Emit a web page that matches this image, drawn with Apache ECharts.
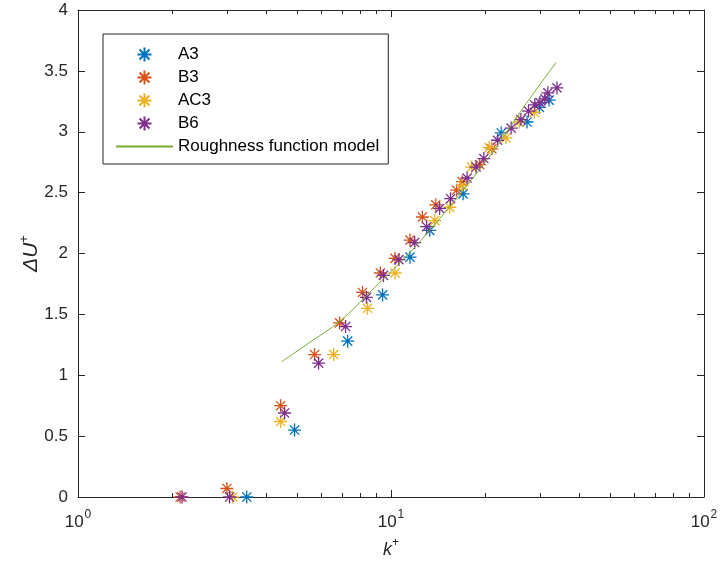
<!DOCTYPE html>
<html><head><meta charset="utf-8">
<script src="https://cdn.jsdelivr.net/npm/echarts@6/dist/echarts.min.js"></script>
<style>html,body{margin:0;padding:0;background:#fff}#c{width:721px;height:569px}</style>
</head><body><div id="c"></div>
<script>
// ---- data (k+, ΔU+) ----
const a3 = [[3.46,0],[4.92,0.55],[7.27,1.28],[9.4,1.66],[11.5,1.97],[13.3,2.19],[17.0,2.49],[22.5,2.99],[27.2,3.08],[29.8,3.2],[32.0,3.26]];
const b3 = [[2.12,0],[2.99,0.07],[4.44,0.75],[5.70,1.17],[6.85,1.43],[8.11,1.68],[9.25,1.84],[10.3,1.96],[11.5,2.11],[12.6,2.30],[13.9,2.40],[16.2,2.52],[16.9,2.59],[19.2,2.73],[21.0,2.86]];
const ac3 = [[3.12,0],[4.44,0.62],[6.56,1.17],[8.41,1.55],[10.3,1.84],[13.8,2.27],[15.4,2.38],[16.9,2.56],[18.1,2.71],[20.6,2.87],[23.3,2.95],[25.7,3.08],[28.7,3.16]];
const b6 = [[2.15,0],[3.05,0],[4.57,0.69],[5.87,1.10],[7.16,1.40],[8.35,1.64],[9.46,1.82],[10.6,1.95],[11.9,2.09],[13.0,2.22],[14.3,2.37],[15.5,2.45],[17.5,2.62],[18.7,2.71],[19.8,2.78],[21.9,2.93],[24.2,3.03],[26.0,3.10],[27.5,3.17],[28.8,3.22],[29.9,3.24],[31.0,3.27],[31.7,3.32],[33.9,3.36]];
const model = [[4.47,1.11],[5.5,1.27],[6.85,1.44],[8.86,1.72],[11.7,2.03],[15.7,2.41],[21.1,2.83],[27.0,3.23],[33.7,3.57]];
const seriesNames = ['A3','B3','AC3','B6','Roughness function model'];
const xMajorTicks = [1,10,100];
const xMinorTicks = [2,3,4,5,6,7,8,9,20,30,40,50,60,70,80,90];
const yTicks = [0,0.5,1,1.5,2,2.5,3,3.5,4];

const FONT = 'Liberation Sans, Arial, Helvetica, sans-serif';
const AX = '#262626';
const star = 'path://M0,-1L0,1M-1,0L1,0M-0.7071,-0.7071L0.7071,0.7071M-0.7071,0.7071L0.7071,-0.7071';
const colors = ['#0072BD','#D95319','#EDB120','#7E2F8E','#77AC30'];
const rect = {left:78, right:17, top:10, bottom:72};
const logMin = Math.log10(xMajorTicks[0]), logMax = Math.log10(xMajorTicks[xMajorTicks.length-1]);

function scatter(name, data, color){
  return {name, type:'scatter', data, symbol: star, symbolSize: 13, symbolKeepAspect: true,
    itemStyle:{color: color, borderColor: color, borderWidth: 1.3, opacity: 1},
    xAxisIndex:0, yAxisIndex:0, clip:false, emphasis:{disabled:true}, animation:false};
}
function logX(opts){
  return Object.assign({type:'log', logBase:10, min:xMajorTicks[0], max:xMajorTicks[xMajorTicks.length-1],
    axisLine:{show:true, onZero:false, lineStyle:{color:AX, width:1}},
    axisTick:{show:true, inside:true, length:7, lineStyle:{color:AX, width:1}},
    splitLine:{show:false}, axisLabel:{show:false}, axisPointer:{show:false}}, opts);
}
function tickX(opts, vals, len){
  return Object.assign({type:'value', min:logMin, max:logMax,
    axisLine:{show:true, onZero:false, lineStyle:{color:AX, width:1, opacity:0}}, splitLine:{show:false}, axisLabel:{show:false}, axisPointer:{show:false},
    axisTick:{show:true, inside:true, length:len, customValues: vals.map(v => Math.log10(v)), lineStyle:{color:AX, width:1, opacity:1}}}, opts);
}

const chart = echarts.init(document.getElementById('c'));
chart.setOption({
  animation:false,
  backgroundColor:'#fff',
  textStyle:{fontFamily:FONT, color:AX},
  grid:[Object.assign({}, rect), Object.assign({}, rect)],
  xAxis:[
    logX({gridIndex:0, position:'bottom',
      axisLabel:{show:true, customValues:xMajorTicks, margin:12, color:AX, fontFamily:FONT,
        formatter: v => '{b|10}{s|' + Math.round(Math.log10(v)) + '}',
        rich:{b:{fontSize:17, fontFamily:FONT, color:AX, lineHeight:22, verticalAlign:'bottom'},
              s:{fontSize:12, fontFamily:FONT, color:AX, lineHeight:22, verticalAlign:'top', padding:[0,0,0,1]}}},
      name:'{i|k}{s|+}', nameLocation:'middle', nameGap:40, nameMoveOverlap:false,
      nameTextStyle:{rich:{i:{fontSize:18, fontStyle:'italic', fontFamily:FONT, color:AX, lineHeight:22, verticalAlign:'bottom'},
                           s:{fontSize:12, fontFamily:FONT, color:AX, lineHeight:22, verticalAlign:'top'}}}}),
    logX({gridIndex:0, position:'top'}),
    tickX({gridIndex:1, position:'bottom'}, xMinorTicks, 4),
    tickX({gridIndex:1, position:'top'}, xMinorTicks, 4)
  ],
  yAxis:[
    {type:'value', gridIndex:0, position:'left', min:yTicks[0], max:yTicks[yTicks.length-1], interval:0.5,
      axisLine:{show:true, onZero:false, lineStyle:{color:AX, width:1}},
      axisTick:{show:true, inside:true, length:7, lineStyle:{color:AX}},
      splitLine:{show:false},
      axisLabel:{show:true, margin:10, fontSize:17, color:AX, fontFamily:FONT, formatter: v => String(v)},
      name:'{d|Δ}{i|U}{s|+}', nameLocation:'middle', nameGap:36, nameRotate:90, nameMoveOverlap:false,
      nameTextStyle:{rich:{d:{fontSize:21, fontStyle:'italic', fontFamily:FONT, color:AX, lineHeight:24, verticalAlign:'bottom'},
                           i:{fontSize:21, fontStyle:'italic', fontFamily:FONT, color:AX, lineHeight:24, verticalAlign:'bottom'},
                           s:{fontSize:13, fontFamily:FONT, color:AX, lineHeight:24, verticalAlign:'top'}}},
      axisPointer:{show:false}},
    {type:'value', gridIndex:0, position:'right', min:yTicks[0], max:yTicks[yTicks.length-1], interval:0.5,
      axisLine:{show:true, onZero:false, lineStyle:{color:AX, width:1}},
      axisTick:{show:true, inside:true, length:7, lineStyle:{color:AX}},
      splitLine:{show:false}, axisLabel:{show:false}},
    {type:'value', gridIndex:1, min:0, max:4, show:false}
  ],
  legend:{
    orient:'vertical', left:103, top:34, padding:[12,9,9,12],
    borderColor:AX, borderWidth:1, backgroundColor:'#fff',
    itemWidth:57, itemHeight:14, itemGap:6,
    textStyle:{fontSize:17, fontFamily:FONT, color:'#000'},
    data: seriesNames, selectedMode:false
  },
  series:[
    scatter(seriesNames[0], a3, colors[0]),
    scatter(seriesNames[1], b3, colors[1]),
    scatter(seriesNames[2], ac3, colors[2]),
    scatter(seriesNames[3], b6, colors[3]),
    {name:seriesNames[4], type:'line', data:model, smooth:0.3, symbol:'circle', symbolSize:0, showSymbol:false,
      xAxisIndex:0, yAxisIndex:0, lineStyle:{color:colors[4], width:1}, itemStyle:{color:'rgba(0,0,0,0)', borderWidth:0},
      emphasis:{disabled:true}, z:3}
  ]
});
</script></body></html>
